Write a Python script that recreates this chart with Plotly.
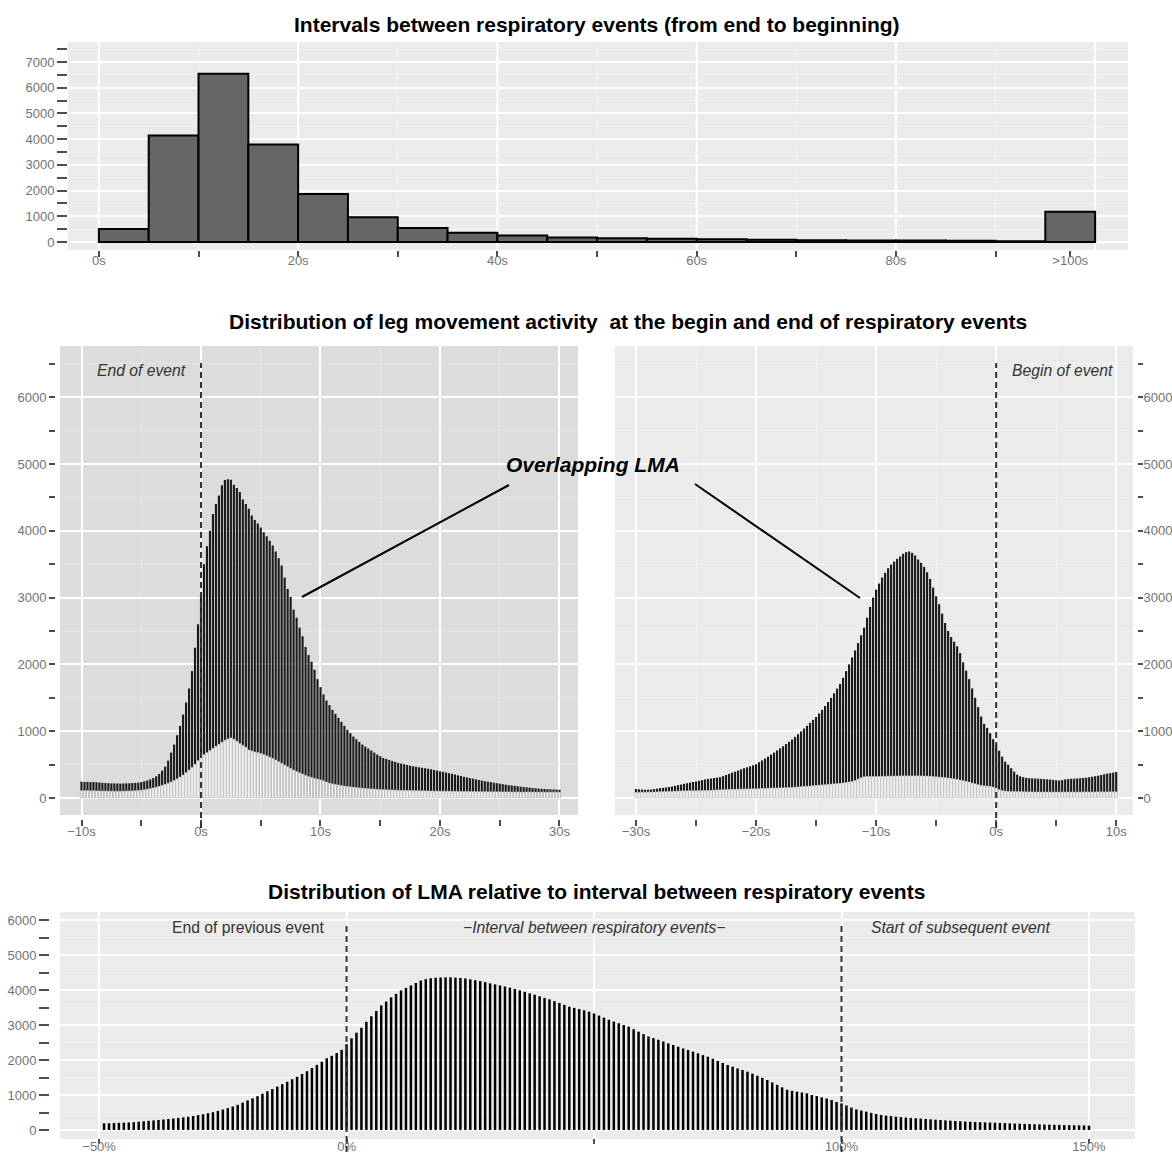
import plotly.graph_objects as go

W, H = 1172, 1153
FONT = "Liberation Sans, Arial, sans-serif"
TICK_GREY = "#737373"
TICK_DARK = "#4d4d4d"

# ---------------- data ----------------
# Intervals between respiratory events, 5 s bins (last bin collects >100 s)
interval_bin_start = [0, 5, 10, 15, 20, 25, 30, 35, 40, 45,
                      50, 55, 60, 65, 70, 75, 80, 85, 90, 95]
interval_counts = [506, 4140, 6545, 3790, 1870, 960, 550, 365, 250, 175,
                   150, 130, 105, 88, 70, 60, 55, 48, 35, 1180]
interval_tick_vals = [0, 20, 40, 60, 80, 97.5]
interval_tick_text = ["0s", "20s", "40s", "60s", "80s", ">100s"]

# LMA around the end of respiratory events, 0.25 s bins from -10 s to 30 s
end_start, end_step = -10.0, 0.25
end_total = [
    245, 240, 242, 238, 240, 236, 232, 228,
    225, 222, 220, 218, 218, 216, 218, 220,
    222, 224, 226, 230, 238, 250, 262, 278,
    297, 325, 360, 410, 470, 560, 680, 800,
    940, 1080, 1250, 1430, 1640, 1900, 2250, 2600,
    3050, 3500, 3770, 4000, 4250, 4400, 4530, 4680,
    4760, 4770, 4765, 4690, 4640, 4580, 4470, 4400,
    4330, 4230, 4160, 4110, 4050, 3980, 3920, 3850,
    3780, 3690, 3590, 3480, 3300, 3130, 3010, 2820,
    2700, 2550, 2420, 2260, 2140, 2040, 1920, 1780,
    1660, 1550, 1460, 1390, 1320, 1260, 1200, 1140,
    1080, 1020, 970, 920, 880, 840, 800, 770,
    740, 710, 680, 650, 625, 600, 585, 570,
    555, 540, 525, 515, 505, 495, 485, 475,
    468, 460, 452, 445, 438, 430, 420, 410,
    400, 392, 382, 372, 362, 352, 340, 330,
    318, 308, 298, 290, 280, 270, 262, 252,
    245, 238, 230, 222, 215, 208, 200, 194,
    188, 182, 176, 170, 166, 160, 155, 150,
    146, 142, 138, 135, 132, 130, 128, 126,
    124,
]
end_overlap = [
    112, 110, 111, 108, 110, 108, 106, 105,
    104, 103, 102, 102, 101, 102, 103, 104,
    105, 107, 110, 113, 118, 124, 132, 140,
    150, 162, 176, 190, 205, 222, 240, 262,
    287, 315, 345, 380, 420, 460, 505, 560,
    620, 650, 680, 710, 743, 775, 805, 835,
    866, 885, 900, 880, 850, 817, 790, 760,
    720, 705, 690, 680, 668, 650, 632, 612,
    594, 570, 545, 520, 495, 470, 445, 420,
    396, 378, 360, 340, 322, 310, 296, 284,
    272, 258, 240, 223, 212, 204, 196, 188,
    180, 174, 168, 162, 157, 152, 148, 144,
    140, 137, 134, 131, 128, 126, 124, 122,
    120, 118, 116, 115, 114, 113, 112, 111,
    110, 109, 108, 107, 106, 105, 104, 104,
    103, 102, 102, 101, 100, 100, 99, 99,
    98, 98, 97, 97, 96, 96, 95, 95,
    94, 94, 94, 93, 93, 92, 92, 92,
    91, 91, 91, 90, 90, 90, 90, 89,
    89, 89, 89, 88, 88, 88, 88, 88,
    88,
]
end_tick_vals = [-10, 0, 10, 20, 30]
end_tick_text = ["\u221210s", "0s", "10s", "20s", "30s"]

# LMA around the beginning of respiratory events, 0.25 s bins from -30 s to 10 s
begin_start, begin_step = -30.0, 0.25
begin_total = [
    135, 130, 126, 124, 124, 128, 134, 140,
    148, 152, 158, 165, 172, 182, 192, 202,
    212, 222, 232, 240, 248, 258, 268, 278,
    286, 292, 298, 305, 312, 328, 345, 362,
    380, 395, 412, 430, 446, 460, 474, 490,
    505, 535, 562, 590, 619, 650, 680, 712,
    743, 775, 808, 842, 876, 915, 955, 998,
    1040, 1082, 1125, 1170, 1213, 1265, 1320, 1378,
    1436, 1500, 1568, 1638, 1708, 1800, 1900, 2000,
    2104, 2210, 2320, 2435, 2550, 2700, 2860, 3000,
    3120, 3210, 3300, 3370, 3440, 3495, 3540, 3580,
    3615, 3655, 3680, 3690, 3670, 3630, 3570, 3520,
    3460, 3380, 3280, 3150, 3020, 2900, 2760, 2620,
    2500, 2410, 2340, 2270, 2170, 2030, 1907, 1780,
    1640, 1500, 1360, 1220, 1110, 1050, 970, 880,
    800, 708, 620, 545, 500, 446, 395, 350,
    325, 312, 302, 297, 295, 292, 290, 286,
    283, 280, 276, 272, 266, 262, 268, 278,
    284, 288, 290, 292, 296, 300, 304, 312,
    318, 326, 334, 345, 356, 366, 372, 380,
    390,
]
begin_overlap = [
    84, 85, 86, 87, 88, 89, 90, 92,
    94, 95, 97, 98, 100, 102, 104, 106,
    108, 108, 109, 109, 109, 110, 111, 112,
    114, 116, 118, 120, 122, 124, 126, 128,
    130, 131, 132, 133, 134, 135, 136, 137,
    138, 140, 142, 144, 146, 148, 149, 150,
    151, 153, 155, 157, 160, 163, 166, 170,
    173, 176, 180, 184, 188, 192, 196, 200,
    204, 208, 212, 216, 220, 226, 232, 240,
    248, 262, 285, 305, 318, 322, 322, 322,
    323, 324, 325, 326, 327, 328, 329, 330,
    331, 332, 332, 332, 332, 332, 332, 331,
    330, 328, 326, 322, 318, 314, 310, 306,
    300, 294, 287, 280, 270, 262, 250, 240,
    225, 213, 200, 190, 183, 178, 175, 165,
    148, 125, 110, 104, 100, 98, 97, 96,
    95, 94, 93, 92, 91, 90, 90, 90,
    90, 90, 90, 90, 90, 90, 90, 90,
    90, 90, 90, 90, 90, 91, 91, 91,
    91, 91, 92, 92, 92, 92, 93, 93,
    93,
]
begin_tick_vals = [-30, -20, -10, 0, 10]
begin_tick_text = ["\u221230s", "\u221220s", "\u221210s", "0s", "10s"]

# LMA relative to the interval between events, 1 % bins from -49 % to 150 %
rel_start, rel_step = -49, 1
rel_counts = [
    190, 193, 198, 204, 210, 216, 224, 236, 250, 262,
    274, 286, 300, 315, 330, 345, 360, 378, 400, 425,
    450, 480, 510, 545, 585, 625, 670, 720, 780, 845,
    905, 965, 1035, 1105, 1170, 1240, 1310, 1380, 1450, 1520,
    1600, 1680, 1770, 1860, 1950, 2050, 2120, 2200, 2290, 2450,
    2620, 2780, 2920, 3090, 3250, 3400, 3560, 3670, 3790, 3890,
    3990, 4060, 4130, 4200, 4270, 4310, 4335, 4350, 4358, 4362,
    4362, 4355, 4345, 4330, 4305, 4280, 4255, 4225, 4190, 4160,
    4130, 4100, 4067, 4030, 3990, 3950, 3905, 3865, 3820, 3775,
    3733, 3680, 3630, 3575, 3524, 3490, 3455, 3420, 3381, 3330,
    3270, 3210, 3150, 3100, 3050, 3000, 2952, 2880, 2810, 2740,
    2670, 2625, 2580, 2530, 2476, 2430, 2380, 2330, 2286, 2240,
    2190, 2140, 2095, 2035, 1975, 1915, 1857, 1810, 1760, 1715,
    1667, 1610, 1550, 1490, 1429, 1360, 1290, 1220, 1150, 1120,
    1095, 1070, 1048, 1000, 970, 933, 900, 857, 800, 760,
    700, 640, 590, 555, 524, 490, 457, 430, 410, 395,
    380, 368, 356, 345, 335, 325, 316, 305, 295, 285,
    275, 266, 258, 250, 242, 236, 230, 224, 218, 212,
    208, 202, 196, 190, 185, 180, 175, 170, 165, 160,
    156, 152, 148, 145, 142, 138, 135, 132, 128, 125,
]
rel_tick_vals = [-50, 0, 50, 100, 150]
rel_tick_text = ["\u221250%", "0%", "", "100%", "150%"]

count_tick_vals = [0, 1000, 2000, 3000, 4000, 5000, 6000, 7000]

end_time = [end_start + end_step * i for i in range(len(end_total))]
begin_time = [begin_start + begin_step * i for i in range(len(begin_total))]
rel_pct = [rel_start + rel_step * i for i in range(len(rel_counts))]


# ---------------- helpers ----------------
def px_x(p):
    return p / W


def px_y(p):
    return 1 - p / H


fig = go.Figure()

# top histogram
fig.add_trace(go.Bar(
    x=[s + 2.5 for s in interval_bin_start], y=interval_counts, width=5,
    marker=dict(color="#666666", line=dict(color="black", width=2)),
    xaxis="x", yaxis="y", hoverinfo="skip", showlegend=False))

# end-of-event panel: all LMA, then overlapping LMA drawn over it
fig.add_trace(go.Bar(
    x=end_time, y=end_total, width=0.18,
    marker=dict(color="#1a1a1a", line=dict(width=0)),
    xaxis="x2", yaxis="y2", hoverinfo="skip", showlegend=False))
fig.add_trace(go.Bar(
    x=end_time, y=end_overlap, width=0.2,
    marker=dict(color="#f3f3f3", line=dict(color="#bdbdbd", width=0.5)),
    xaxis="x2", yaxis="y2", hoverinfo="skip", showlegend=False))

# begin-of-event panel
fig.add_trace(go.Bar(
    x=begin_time, y=begin_total, width=0.18,
    marker=dict(color="#1a1a1a", line=dict(width=0)),
    xaxis="x3", yaxis="y3", hoverinfo="skip", showlegend=False))
fig.add_trace(go.Bar(
    x=begin_time, y=begin_overlap, width=0.2,
    marker=dict(color="#f3f3f3", line=dict(color="#bdbdbd", width=0.5)),
    xaxis="x3", yaxis="y3", hoverinfo="skip", showlegend=False))

# relative position panel
fig.add_trace(go.Bar(
    x=rel_pct, y=rel_counts, width=0.5,
    marker=dict(color="black", line=dict(width=0)),
    xaxis="x4", yaxis="y4", hoverinfo="skip", showlegend=False))

tickfont = dict(family=FONT, size=13, color=TICK_GREY)


def count_axis(domain, rng, ticklen, **kw):
    d = dict(
        domain=domain, range=rng, tickvals=count_tick_vals,
        ticks="outside", ticklen=ticklen, tickwidth=2, tickcolor=TICK_DARK,
        showgrid=True, gridcolor="white", gridwidth=2, zeroline=False,
        showline=False, tickfont=tickfont, fixedrange=True, automargin=False,
        minor=dict(dtick=500, ticks="outside", ticklen=ticklen, tickwidth=2,
                   tickcolor=TICK_DARK, showgrid=True, gridwidth=1,
                   gridcolor=kw.pop("minor_grid", "#f3f3f3")),
    )
    d.update(kw)
    return d


def time_axis(domain, rng, vals, text, minor_vals=None, minor_grid="#f3f3f3", **kw):
    d = dict(
        domain=domain, range=rng, tickvals=vals, ticktext=text,
        ticks="outside", ticklen=6, tickwidth=1.5, tickcolor=TICK_DARK,
        showgrid=True, gridcolor="white", gridwidth=2, zeroline=False,
        showline=False, tickfont=tickfont, fixedrange=True, automargin=False,
        ticklabelstandoff=-6,
    )
    if minor_vals is not None:
        d["minor"] = dict(tickvals=minor_vals, ticks="outside", ticklen=d["ticklen"],
                          tickwidth=1.5, tickcolor=TICK_DARK, showgrid=True,
                          gridwidth=1, gridcolor=minor_grid)
    d.update(kw)
    return d


top_dom_x = [px_x(68), px_x(1128)]
top_dom_y = [px_y(250), px_y(42)]
mid_dom_y = [px_y(815), px_y(346)]
left_dom_x = [px_x(60), px_x(578)]
right_dom_x = [px_x(615), px_x(1133)]
bot_dom_x = [px_x(60), px_x(1135)]
bot_dom_y = [px_y(1139), px_y(912)]

fig.update_layout(
    width=W, height=H,
    margin=dict(l=0, r=0, t=0, b=0, pad=0, autoexpand=False),
    paper_bgcolor="white", plot_bgcolor="#ebebeb",
    barmode="overlay", bargap=0.05, showlegend=False,
    font=dict(family=FONT),
    xaxis=time_axis(top_dom_x, [-3.1, 103.3], interval_tick_vals, interval_tick_text,
                    minor_vals=[10, 30, 50, 70, 90], anchor="y", showgrid=False,
                    ticklabelstandoff=-8),
    yaxis=count_axis(top_dom_y, [-310, 7780], 10, anchor="x"),
    xaxis2=time_axis(left_dom_x, [-11.8, 31.55], end_tick_vals, end_tick_text,
                     minor_vals=[-5, 5, 15, 25], minor_grid="#e6e6e6",
                     anchor="free", position=px_y(819)),
    yaxis2=count_axis(mid_dom_y, [-254, 6766], 6, anchor="free",
                      position=px_x(55), minor_grid="#e6e6e6"),
    xaxis3=time_axis(right_dom_x, [-31.75, 11.4], begin_tick_vals, begin_tick_text,
                     minor_vals=[-25, -15, -5, 5], anchor="free", position=px_y(819)),
    yaxis3=count_axis(mid_dom_y, [-254, 6766], 5, anchor="free", side="right",
                      position=px_x(1137), ticklabelstandoff=-2),
    xaxis4=time_axis(bot_dom_x, [-57.9, 159.3], rel_tick_vals, rel_tick_text,
                     anchor="free", position=px_y(1138), ticklen=5,
                     ticklabelstandoff=-9),
    yaxis4=count_axis(bot_dom_y, [-257, 6229], 10, anchor="free",
                      position=px_x(49)),
)

shapes = []
# darker panel behind the end-of-event distribution
shapes.append(dict(type="rect", xref="x2 domain", yref="y2 domain", x0=0, x1=1,
                   y0=0, y1=1, fillcolor="#dcdcdc", line=dict(width=0), layer="below"))
# major vertical grid of the histogram
for gx in [0, 20, 40, 60, 80, 100]:
    shapes.append(dict(type="line", xref="x", yref="y domain", x0=gx, x1=gx, y0=0, y1=1,
                       line=dict(color="white", width=2), layer="below"))

dash = dict(color="#333333", width=2, dash="6px,4px")
# event boundaries
shapes.append(dict(type="line", xref="x2", yref="paper", x0=0, x1=0,
                   y0=px_y(828), y1=px_y(363), line=dash))
shapes.append(dict(type="line", xref="x3", yref="paper", x0=0, x1=0,
                   y0=px_y(828), y1=px_y(363), line=dash))
for bx in [0, 100]:
    shapes.append(dict(type="line", xref="x4", yref="paper", x0=bx, x1=bx,
                       y0=px_y(1152), y1=px_y(925), line=dash))

# leader lines for the "Overlapping LMA" label
shapes.append(dict(type="line", xref="paper", yref="paper",
                   x0=px_x(509), y0=px_y(485), x1=px_x(302), y1=px_y(597),
                   line=dict(color="black", width=2)))
shapes.append(dict(type="line", xref="paper", yref="paper",
                   x0=px_x(695), y0=px_y(484), x1=px_x(860), y1=px_y(598),
                   line=dict(color="black", width=2)))
fig.update_layout(shapes=shapes)

title_font = dict(family=FONT, size=21, color="black")
note_font = dict(family=FONT, size=15.7, color="#333333")
annotations = [
    dict(text="<b>Intervals between respiratory events (from end to beginning)</b>",
         x=px_x(597), y=px_y(24), font=title_font),
    dict(text="<b>Distribution of leg movement activity \u00a0at the begin and end of respiratory events</b>",
         x=px_x(628), y=px_y(321), font=title_font),
    dict(text="<b>Distribution of LMA relative to interval between respiratory events</b>",
         x=px_x(596), y=px_y(891), font=title_font),
    dict(text="<b><i>Overlapping LMA</i></b>", x=px_x(593), y=px_y(464),
         font=dict(family=FONT, size=21, color="black")),
]
for a in annotations:
    a.update(xref="paper", yref="paper", showarrow=False, xanchor="center", yanchor="middle")

notes = [
    dict(text="<i>End of event</i>", x=-5, y=6400, xref="x2", yref="y2"),
    dict(text="<i>Begin of event</i>", x=5.5, y=6400, xref="x3", yref="y3"),
    dict(text="End of previous event", x=-20, y=5800, xref="x4", yref="y4"),
    dict(text="<i>\u2212Interval between respiratory events\u2212</i>", x=50, y=5800,
         xref="x4", yref="y4"),
    dict(text="<i>Start of subsequent event</i>", x=124, y=5800, xref="x4", yref="y4"),
]
for a in notes:
    a.update(showarrow=False, xanchor="center", yanchor="middle", font=note_font)

fig.update_layout(annotations=annotations + notes)

fig.write_html("out.html")
